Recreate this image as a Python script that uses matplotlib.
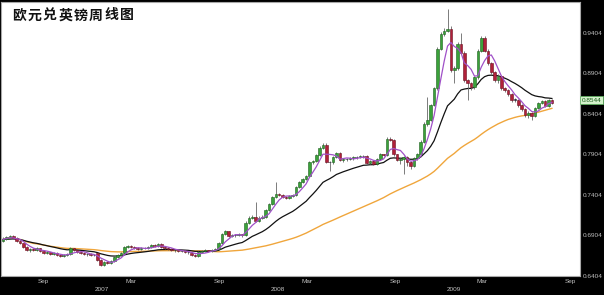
import matplotlib
matplotlib.use('Agg')
import matplotlib.pyplot as plt
import matplotlib.dates as mdates
import matplotlib.transforms as mtransforms
import numpy as np
import pandas as pd

plt.rcParams['font.family'] = ['Liberation Sans', 'DejaVu Sans']

title_text = "欧元兑英镑周线图"
start_date = "2006-06-09"

opens = [
    0.6830, 0.6855, 0.6880, 0.6892, 0.6867, 0.6831, 0.6806, 0.6758, 0.6721, 0.6733,
    0.6721, 0.6745, 0.6709, 0.6684, 0.6697, 0.6672, 0.6684, 0.6660, 0.6648, 0.6660,
    0.6672, 0.6745, 0.6721, 0.6697, 0.6684, 0.6672, 0.6672, 0.6660, 0.6684, 0.6599,
    0.6538, 0.6575, 0.6562, 0.6587, 0.6636, 0.6660, 0.6684, 0.6758, 0.6770, 0.6758,
    0.6745, 0.6733, 0.6745, 0.6745, 0.6758, 0.6782, 0.6770, 0.6794, 0.6758, 0.6745,
    0.6733, 0.6721, 0.6721, 0.6709, 0.6709, 0.6697, 0.6684, 0.6660, 0.6648, 0.6697,
    0.6709, 0.6721, 0.6709, 0.6721, 0.6733, 0.6806, 0.6916, 0.6953, 0.6892, 0.6904,
    0.6904, 0.6916, 0.6904, 0.7063, 0.7124, 0.7136, 0.7087, 0.7124, 0.7136, 0.7221,
    0.7294, 0.7380, 0.7416, 0.7404, 0.7380, 0.7368, 0.7392, 0.7404, 0.7502, 0.7562,
    0.7599, 0.7636, 0.7806, 0.7819, 0.7892, 0.7989, 0.8026, 0.7806, 0.7806, 0.7867,
    0.7916, 0.7831, 0.7843, 0.7843, 0.7855, 0.7867, 0.7867, 0.7880, 0.7880, 0.7794,
    0.7819, 0.7782, 0.7843, 0.7904, 0.7892, 0.8099, 0.8087, 0.7904, 0.7831, 0.7843,
    0.7867, 0.7806, 0.7758, 0.7855, 0.7904, 0.8062, 0.8282, 0.8331, 0.8514, 0.8721,
    0.9209, 0.9392, 0.9428, 0.9453, 0.8941, 0.8965, 0.9270, 0.9160, 0.8819, 0.8782,
    0.8733, 0.8855, 0.9184, 0.9343, 0.9184, 0.9026, 0.8916, 0.8819, 0.8867, 0.8721,
    0.8696, 0.8648, 0.8575, 0.8575, 0.8514, 0.8465, 0.8392, 0.8416, 0.8380, 0.8477,
    0.8538, 0.8562, 0.8502, 0.8575,
]
highs = [
    0.6880, 0.6895, 0.6910, 0.6905, 0.6880, 0.6845, 0.6815, 0.6770, 0.6750, 0.6745,
    0.6760, 0.6755, 0.6720, 0.6710, 0.6705, 0.6700, 0.6695, 0.6670, 0.6675, 0.6685,
    0.6760, 0.6755, 0.6730, 0.6710, 0.6695, 0.6690, 0.6685, 0.6675, 0.6690, 0.6610,
    0.6585, 0.6590, 0.6600, 0.6645, 0.6672, 0.6697, 0.6770, 0.6790, 0.6782, 0.6770,
    0.6758, 0.6760, 0.6758, 0.6770, 0.6795, 0.6800, 0.6810, 0.6805, 0.6770, 0.6758,
    0.6745, 0.6740, 0.6735, 0.6725, 0.6720, 0.6712, 0.6700, 0.6672, 0.6710, 0.6725,
    0.6735, 0.6730, 0.6735, 0.6750, 0.6820, 0.6930, 0.6970, 0.6965, 0.6920, 0.6920,
    0.6930, 0.6928, 0.7080, 0.7140, 0.7155, 0.7319, 0.7140, 0.7155, 0.7235, 0.7310,
    0.7395, 0.7562, 0.7430, 0.7420, 0.7395, 0.7405, 0.7420, 0.7520, 0.7580, 0.7615,
    0.7650, 0.7825, 0.7840, 0.7910, 0.8005, 0.8045, 0.8040, 0.7825, 0.7880, 0.7930,
    0.7930, 0.7860, 0.7860, 0.7870, 0.7880, 0.7885, 0.7895, 0.7895, 0.7892, 0.7835,
    0.7830, 0.7855, 0.7920, 0.7915, 0.8115, 0.8120, 0.8100, 0.7915, 0.7860, 0.7880,
    0.7880, 0.7820, 0.7870, 0.7920, 0.8080, 0.8300, 0.8611, 0.8530, 0.8740, 0.9230,
    0.9410, 0.9460, 0.9697, 0.9489, 0.8990, 0.9290, 0.9404, 0.9175, 0.8840, 0.8800,
    0.8870, 0.9200, 0.9360, 0.9360, 0.9200, 0.9040, 0.8930, 0.8890, 0.8880, 0.8740,
    0.8710, 0.8665, 0.8600, 0.8590, 0.8530, 0.8480, 0.8435, 0.8430, 0.8490, 0.8555,
    0.8580, 0.8575, 0.8590, 0.8590,
]
lows = [
    0.6820, 0.6845, 0.6870, 0.6855, 0.6820, 0.6795, 0.6745, 0.6710, 0.6705, 0.6710,
    0.6710, 0.6700, 0.6675, 0.6670, 0.6660, 0.6660, 0.6650, 0.6635, 0.6640, 0.6650,
    0.6665, 0.6710, 0.6685, 0.6675, 0.6660, 0.6655, 0.6650, 0.6645, 0.6590, 0.6526,
    0.6530, 0.6550, 0.6555, 0.6580, 0.6625, 0.6650, 0.6675, 0.6745, 0.6745, 0.6733,
    0.6721, 0.6725, 0.6733, 0.6735, 0.6750, 0.6760, 0.6760, 0.6745, 0.6733, 0.6721,
    0.6710, 0.6705, 0.6697, 0.6695, 0.6685, 0.6680, 0.6648, 0.6636, 0.6640, 0.6690,
    0.6700, 0.6697, 0.6700, 0.6712, 0.6725, 0.6795, 0.6904, 0.6880, 0.6880, 0.6890,
    0.6892, 0.6890, 0.6895, 0.7050, 0.7110, 0.7075, 0.7075, 0.7110, 0.7125, 0.7210,
    0.7280, 0.7368, 0.7390, 0.7368, 0.7355, 0.7355, 0.7380, 0.7390, 0.7490, 0.7550,
    0.7585, 0.7620, 0.7790, 0.7805, 0.7880, 0.7975, 0.7794, 0.7697, 0.7790, 0.7855,
    0.7819, 0.7810, 0.7825, 0.7830, 0.7840, 0.7850, 0.7855, 0.7862, 0.7782, 0.7780,
    0.7770, 0.7770, 0.7830, 0.7880, 0.7880, 0.8070, 0.7890, 0.7819, 0.7790, 0.7660,
    0.7760, 0.7720, 0.7745, 0.7840, 0.7890, 0.8040, 0.8260, 0.8320, 0.8500, 0.8700,
    0.9190, 0.9370, 0.9410, 0.8920, 0.8782, 0.8950, 0.9140, 0.8800, 0.8575, 0.8700,
    0.8715, 0.8840, 0.9170, 0.9165, 0.9005, 0.8900, 0.8800, 0.8780, 0.8700, 0.8670,
    0.8620, 0.8550, 0.8550, 0.8490, 0.8440, 0.8370, 0.8355, 0.8331, 0.8360, 0.8460,
    0.8520, 0.8490, 0.8490, 0.8530,
]
closes = [
    0.6855, 0.6880, 0.6892, 0.6867, 0.6831, 0.6806, 0.6758, 0.6721, 0.6733, 0.6721,
    0.6745, 0.6709, 0.6684, 0.6697, 0.6672, 0.6684, 0.6660, 0.6648, 0.6660, 0.6672,
    0.6745, 0.6721, 0.6697, 0.6684, 0.6672, 0.6672, 0.6660, 0.6660, 0.6599, 0.6538,
    0.6575, 0.6562, 0.6587, 0.6636, 0.6660, 0.6684, 0.6758, 0.6770, 0.6758, 0.6745,
    0.6733, 0.6745, 0.6745, 0.6758, 0.6782, 0.6770, 0.6794, 0.6758, 0.6745, 0.6733,
    0.6721, 0.6721, 0.6709, 0.6709, 0.6697, 0.6697, 0.6660, 0.6648, 0.6697, 0.6709,
    0.6721, 0.6709, 0.6721, 0.6733, 0.6806, 0.6916, 0.6953, 0.6892, 0.6904, 0.6904,
    0.6916, 0.6904, 0.7063, 0.7124, 0.7136, 0.7087, 0.7124, 0.7136, 0.7221, 0.7294,
    0.7380, 0.7416, 0.7404, 0.7380, 0.7368, 0.7392, 0.7404, 0.7502, 0.7562, 0.7599,
    0.7636, 0.7806, 0.7819, 0.7892, 0.7989, 0.8026, 0.7806, 0.7806, 0.7867, 0.7916,
    0.7831, 0.7843, 0.7843, 0.7855, 0.7867, 0.7867, 0.7880, 0.7880, 0.7794, 0.7819,
    0.7782, 0.7843, 0.7904, 0.7892, 0.8099, 0.8087, 0.7904, 0.7831, 0.7843, 0.7867,
    0.7806, 0.7758, 0.7855, 0.7904, 0.8062, 0.8282, 0.8331, 0.8514, 0.8721, 0.9209,
    0.9392, 0.9428, 0.9453, 0.8941, 0.8965, 0.9270, 0.9160, 0.8819, 0.8782, 0.8733,
    0.8855, 0.9184, 0.9343, 0.9184, 0.9026, 0.8916, 0.8819, 0.8867, 0.8721, 0.8696,
    0.8648, 0.8575, 0.8575, 0.8514, 0.8465, 0.8392, 0.8416, 0.8380, 0.8477, 0.8538,
    0.8562, 0.8502, 0.8575, 0.8544,
]

short_window = 5     # simple moving average (purple)
mid_span = 20        # exponential moving average (black)
long_window = 60     # simple moving average (orange)
y_ticks = [0.6404, 0.6904, 0.7404, 0.7904, 0.8404, 0.8904, 0.9404]
month_ticks = ["2006-09-01", "2007-03-01", "2007-09-01", "2008-03-01",
               "2008-09-01", "2009-03-01", "2009-09-01"]
month_labels = ["Sep", "Mar", "Sep", "Mar", "Sep", "Mar", "Sep"]
year_ticks = ["2007-01-01", "2008-01-01", "2009-01-01"]
year_labels = ["2007", "2008", "2009"]
last_price = 0.8544

n = len(closes)
assert len(opens) == n and len(highs) == n and len(lows) == n

dates = pd.date_range(start_date, periods=n, freq="7D")
xd = mdates.date2num(dates)
o = np.array(opens); h = np.array(highs); l = np.array(lows); c = np.array(closes)

W, H = 604, 295
fig = plt.figure(figsize=(W / 100, H / 100), dpi=100, facecolor="black")
ax = fig.add_axes([1 / W, 19 / H, 579 / W, 274 / H])
ax.set_facecolor("white")

sep06 = mdates.date2num(pd.Timestamp("2006-09-01"))
ax.set_xlim(sep06 - 88.4, sep06 + 1115.4)
ax.set_ylim(0.6426, 0.9784)

# moving averages
s = pd.Series(c)
ma_s = s.rolling(short_window, min_periods=1).mean()
ma_m = s.ewm(span=mid_span, adjust=False).mean()
ma_l = s.rolling(long_window, min_periods=1).mean()
ax.plot(xd, ma_l, color="#f0a63c", lw=1.0, zorder=2)
ax.plot(xd, ma_m, color="#111111", lw=0.9, zorder=2)
ax.plot(xd, ma_s, color="#a050c8", lw=0.9, zorder=4)

# candles
up = c >= o
body_w = 5.4
ax.vlines(xd, l, h, color="#666666", lw=0.6, zorder=3)
bottoms = np.minimum(o, c)
heights = np.maximum(np.abs(c - o), 0.0009)
flat = np.abs(c - o) < 0.0005
colors = np.where(flat, "#333344", np.where(up, "#3aa23a", "#b0203a"))
edges = np.where(flat, "#222233", np.where(up, "#1e5e1e", "#6a1020"))
ax.bar(xd, heights, bottom=bottoms, width=body_w, color=colors,
       edgecolor=edges, linewidth=0.4, zorder=3.5)

for sp in ax.spines.values():
    sp.set_color("#a8a8a8")
    sp.set_linewidth(0.8)

ax.yaxis.tick_right()
ax.set_yticks(y_ticks)
ax.set_yticklabels([f"{v:.4f}" for v in y_ticks])
ax.tick_params(axis="y", length=0, pad=2.2, labelsize=4.6, labelcolor="#c0c0c0")

ax.set_xticks(mdates.date2num(pd.to_datetime(month_ticks)))
ax.set_xticklabels(month_labels)
ax.set_xticks(mdates.date2num(pd.to_datetime(year_ticks)), minor=True)
ax.set_xticklabels(year_labels, minor=True)
ax.tick_params(axis="x", which="major", length=0, pad=2.4, labelsize=4.6, labelcolor="#c0c0c0")
ax.tick_params(axis="x", which="minor", length=0, pad=7.6, labelsize=4.6, labelcolor="#c0c0c0")

trans = mtransforms.blended_transform_factory(ax.transAxes, ax.transData)
ax.text(1.003, last_price, f"{last_price:.4f}", transform=trans, fontsize=4.6,
        color="#1a5a1a", ha="left", va="bottom", clip_on=False, zorder=6,
        bbox=dict(boxstyle="square,pad=0.2", fc="#d4f2cc", ec="#5ab45a", lw=0.5))

for k, ch in enumerate(title_text):
    fig.text((12 + 15.4 * k) / W, 1 - 15.5 / H, ch, fontsize=10, fontweight="bold",
             family=["Noto Sans CJK SC", "DejaVu Sans"], color="#111111",
             ha="left", va="center")

fig.savefig("out.png", dpi=100, facecolor=fig.get_facecolor())
